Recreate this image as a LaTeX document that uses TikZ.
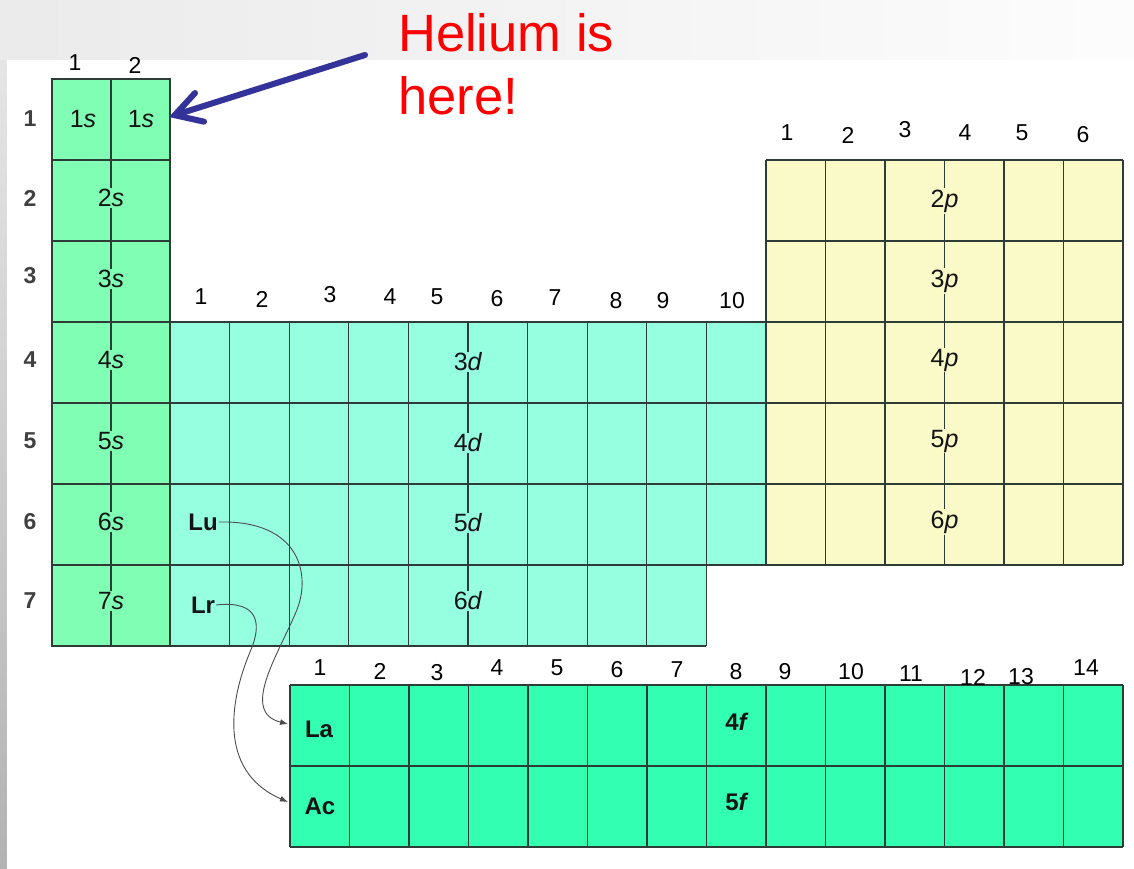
\documentclass[tikz,border=0pt]{standalone}
\usepackage{fontspec}
\setmainfont{Liberation Sans}
\usetikzlibrary{arrows.meta}
\definecolor{sblk}{RGB}{128,255,180}
\definecolor{dblk}{RGB}{150,255,224}
\definecolor{pblk}{RGB}{250,250,200}
\definecolor{fblk}{RGB}{50,255,178}
\definecolor{gridc}{RGB}{45,60,55}
\definecolor{arrowblue}{RGB}{51,51,153}
\definecolor{helred}{RGB}{255,0,0}
\begin{document}
\begin{tikzpicture}[x=1pt,y=-1pt,
  gridline/.style={draw=gridc, line width=1.3pt},
  num/.style={font=\fontsize{23}{26}\selectfont, inner sep=0pt, text=black},
  rowlab/.style={font=\fontsize{23}{26}\selectfont\bfseries, inner sep=0pt, text=black!75},
  cell/.style={font=\fontsize{25}{28}\selectfont, inner xsep=2pt, inner ysep=1pt, text=black!92},
  sym/.style={font=\fontsize{24}{27}\selectfont\bfseries, inner sep=1pt, text=black!92},
  helium/.style={font=\fontsize{52.5}{63}\selectfont, text=helred, inner sep=0pt, anchor=base west},
  curvearrow/.style={draw=black!70, line width=0.9pt, -{Latex[length=8pt,width=6pt]}},
  bluearrow/.style={draw=arrowblue, line width=6pt, line cap=round, -{Straight Barb[length=26pt,width=30pt,line cap=round]}}
]
\useasboundingbox (0,0) rectangle (1134,868);
% background
\shade[left color=black!8, right color=black!1] (0,0) rectangle (1134,60);
\shade[top color=black!10, bottom color=black!30] (0,60) rectangle (7,868);
\fill[white] (7,60) rectangle (1134,868);

% ---------- s block ----------
\fill[sblk] (52,79) rectangle (170,646);
\foreach \y in {160,241,...,565} \draw[gridline] (52,\y) -- (170,\y);
\draw[gridline] (111,79) -- (111,160);
\draw[gridline] (52,79) rectangle (170,646);

% ---------- d block ----------
\fill[dblk] (170,322) rectangle (766,565);
\fill[dblk] (170,565) rectangle (706.4,646);
\foreach \y in {322,403,484,565} \draw[gridline] (170,\y) -- (766,\y);
\draw[gridline] (170,646) -- (706.4,646);
\foreach \i in {1,2,3,4,6,7,8,9} \draw[gridline] (170+\i*59.6,322) -- (170+\i*59.6,646);

% ---------- p block ----------
\fill[pblk] (766,160) rectangle (1123,565);
\foreach \y in {160,241,...,565} \draw[gridline] (766,\y) -- (1123,\y);
\foreach \i in {0,1,2,4,5,6} \draw[gridline] (766+\i*59.5,160) -- (766+\i*59.5,565);
\draw[gridline] (170,322) -- (170,646);

% ---------- f block ----------
\fill[fblk] (290,685) rectangle (1123,847);
\foreach \y in {685,766,847} \draw[gridline] (290,\y) -- (1123,\y);
\foreach \i in {0,...,14} \draw[gridline] (290+\i*59.5,685) -- (290+\i*59.5,847);

% ---------- row labels ----------
\foreach \n/\y in {1/119,2/198,3/276,4/360,5/441,6/522,7/601}
  \node[rowlab] (row\n) at (30,\y) {\n};

% ---------- column numbers ----------
\foreach \n/\x/\y in {1/75/63,2/135/65}
  \node[num] (s\n) at (\x,\y) {\n};
\foreach \n/\x/\y in {1/201/297,2/262/299,3/330/295,4/390/297,5/437/297,6/497/299,7/555/298,8/616/301,9/663/301,10/732/301}
  \node[num] (d\n) at (\x,\y) {\n};
\foreach \n/\x/\y in {1/787/133,2/848/135,3/905/130,4/965/133,5/1022/133,6/1083/135}
  \node[num] (p\n) at (\x,\y) {\n};
\foreach \n/\x/\y in {1/320/668,2/380/671,3/437/673,4/497/668,5/557/668,6/617/670,7/677/670,8/736/672,9/785/672,10/851/672,11/911/674,12/973/677,13/1021/677,14/1086/668}
  \node[num] (f\n) at (\x,\y) {\n};

% ---------- cell labels, with the split centre lines ----------
\node[cell] (H) at (83,119) {1\textit{s}};
\node[cell] (He) at (141,119) {1\textit{s}};
\foreach \n/\y/\t in {2/198/160,3/279/241,4/360/322,5/441/403,6/522/484,7/601/565}{
  \node[cell] (orb\n-s) at (111,\y) {\n\textit{s}};
  \draw[gridline] (111,\t) -- (orb\n-s.north);
  \draw[gridline] (orb\n-s.south) -- (111,\t+81);
}
\foreach \n/\y/\t in {3/362/322,4/443/403,5/523/484,6/601/565}{
  \node[cell] (orb\n-d) at (468,\y) {\n\textit{d}};
  \draw[gridline] (468,\t) -- (orb\n-d.north);
  \draw[gridline] (orb\n-d.south) -- (468,\t+81);
}
\foreach \n/\y/\t in {2/201/160,3/281/241,4/360/322,5/441/403,6/522/484}{
  \node[cell] (orb\n-p) at (944.5,\y) {\n\textit{p}};
  \draw[gridline] (944.5,\t) -- (orb\n-p.north);
  \draw[gridline] (orb\n-p.south) -- (944.5,\t+81);
}
\node[sym] (orb4f) at (737,722) {4\textit{f}};
\node[sym] (orb5f) at (737,802) {5\textit{f}};

\node[sym] (Lu) at (203,522) {Lu};
\node[sym] (Lr) at (203,605) {Lr};
\node[sym] (La) at (319,729) {La};
\node[sym] (Ac) at (320,806) {Ac};

% ---------- curved arrows ----------
\coordinate (LaIn) at (288,724);
\coordinate (AcIn) at (288,802);
\draw[curvearrow] (Lu.east) .. controls (300,520) and (312,575) .. (296,612)
  .. controls (278,655) and (240,712) .. (LaIn);
\draw[curvearrow] (Lr.east) .. controls (260,600) and (262,625) .. (250,652)
  .. controls (232,695) and (215,770) .. (AcIn);

% ---------- Helium ----------
\node[helium] (hel1) at (398,51) {Helium is};
\node[helium] (hel2) at (398,114) {here!};
\coordinate (harrow) at (365,55);
\coordinate (htip) at (169,117);
\draw[bluearrow, draw=black, opacity=0.12, xshift=2pt, yshift=-3pt] (harrow) -- (htip);
\draw[bluearrow] (harrow) -- (htip);
\end{tikzpicture}
\end{document}
